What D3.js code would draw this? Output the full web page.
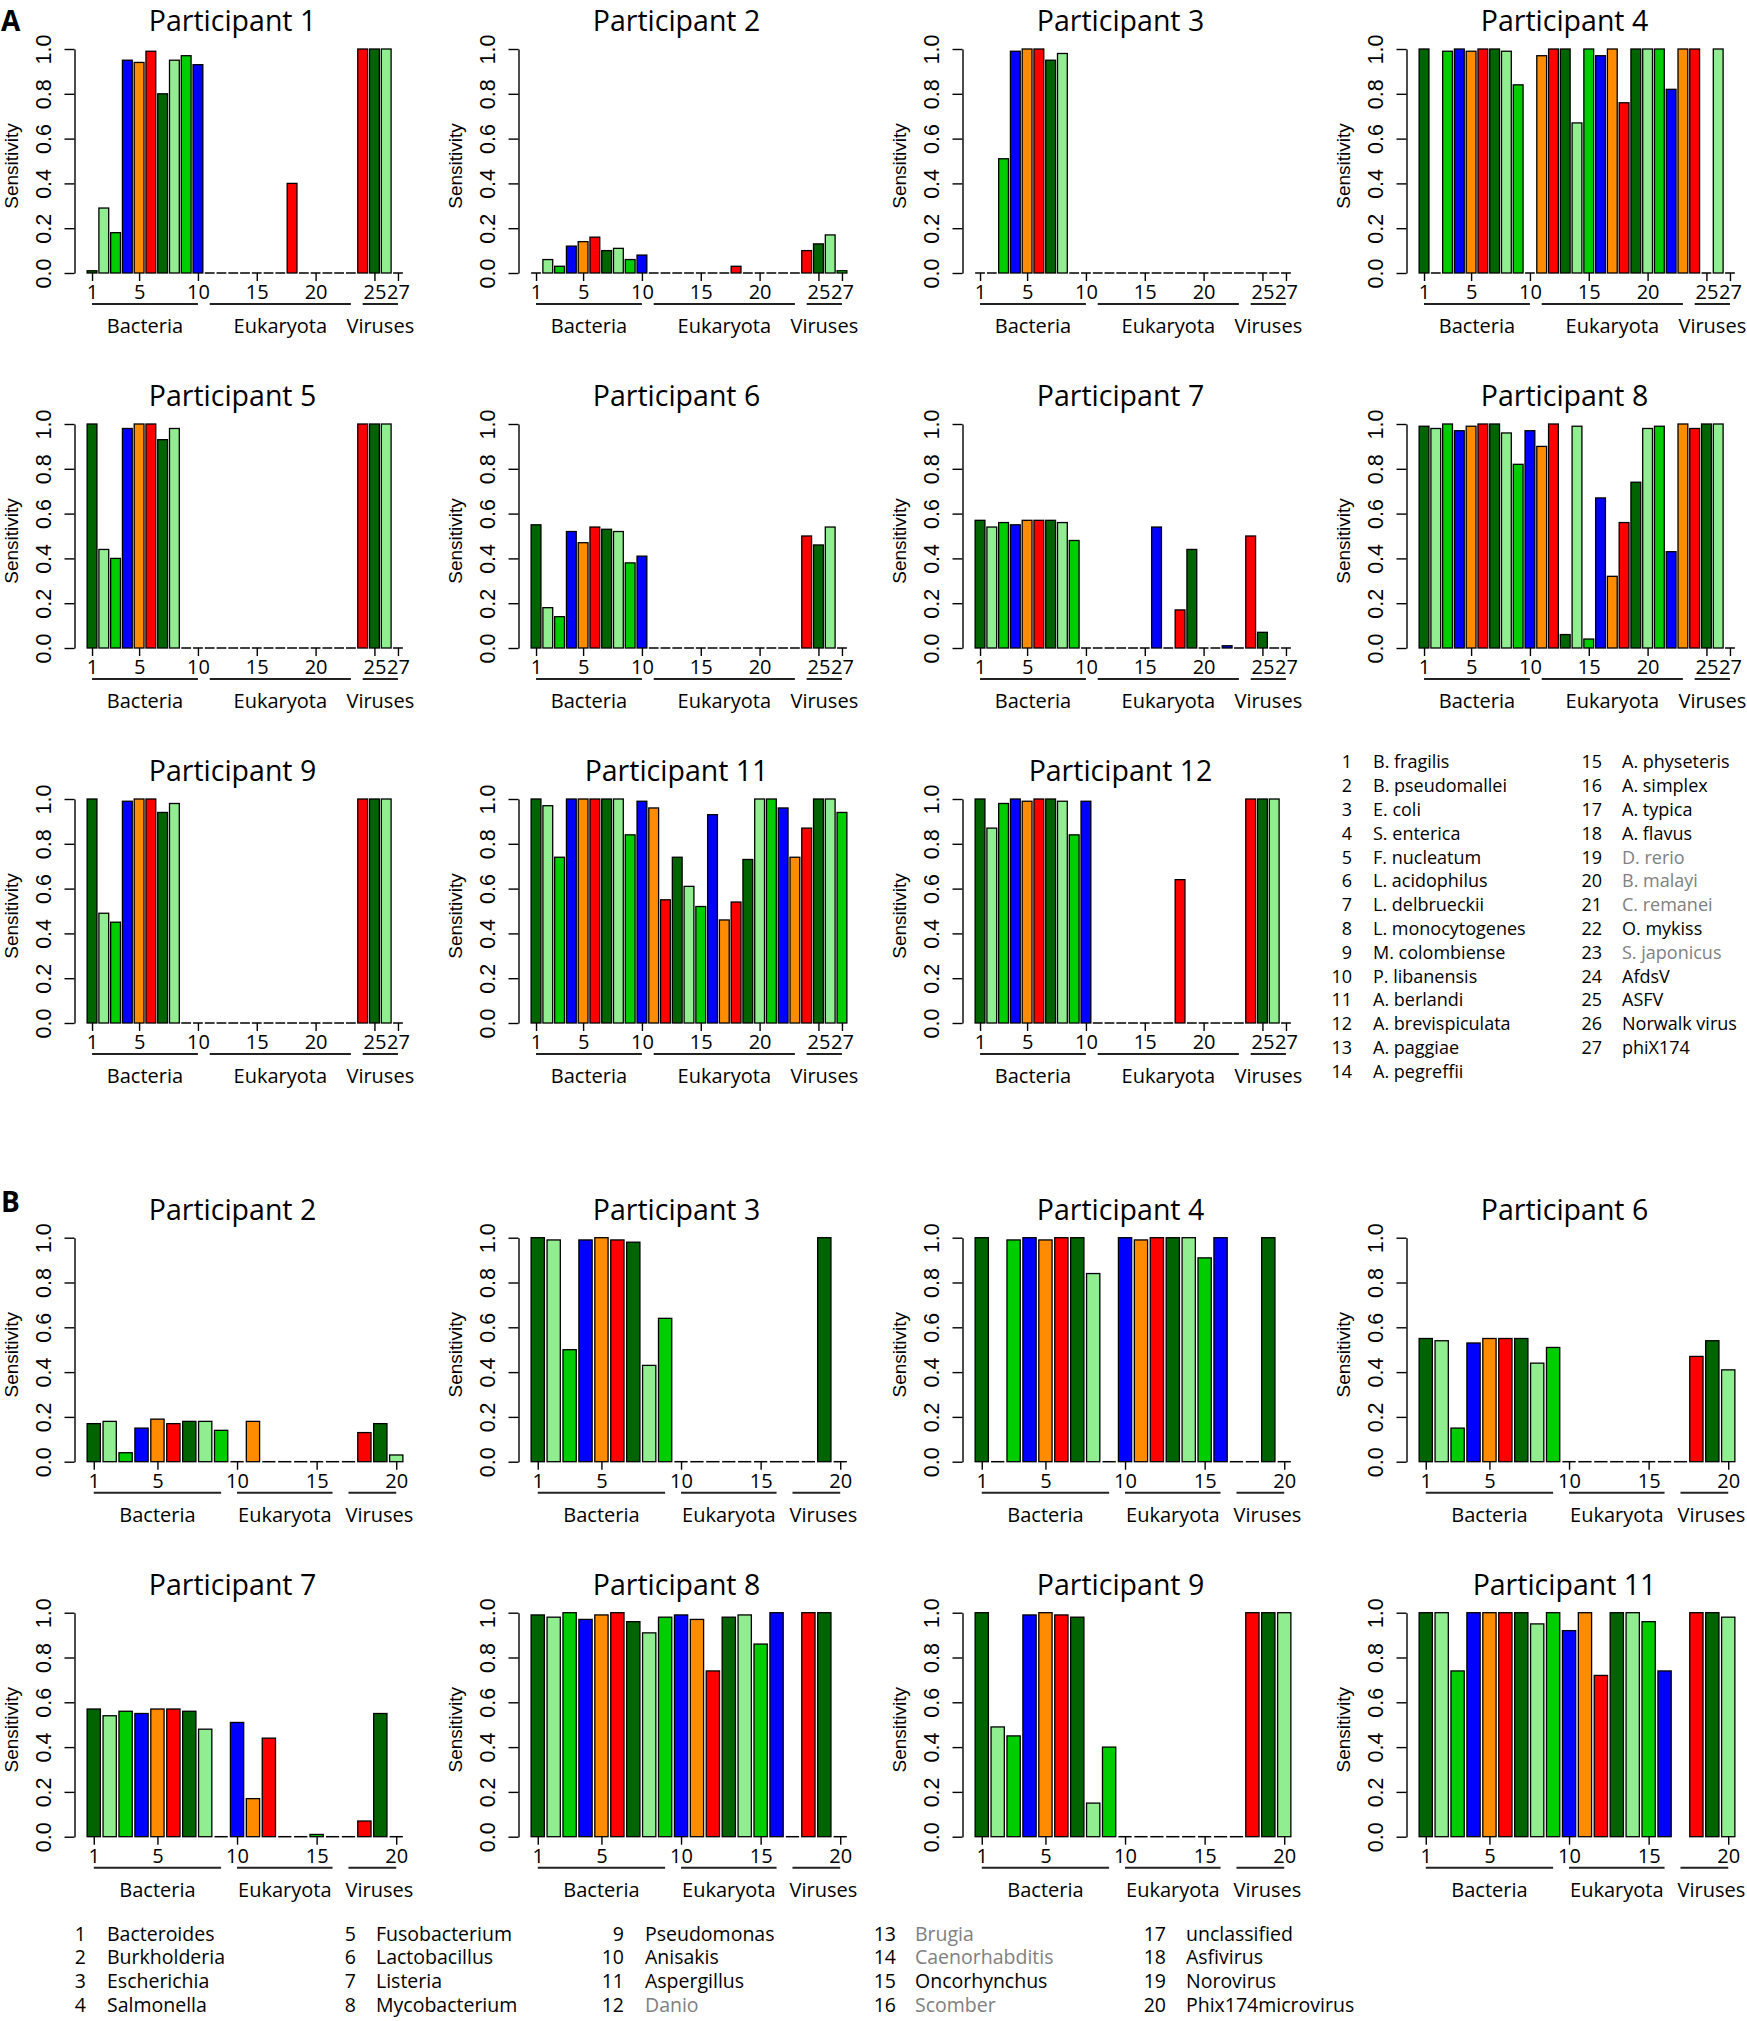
<!DOCTYPE html>
<html>
<head>
<meta charset="utf-8">
<script src="https://cdn.jsdelivr.net/npm/d3@7"></script>
<style>
  body { margin: 0; background: #fff; }
  svg { display: block; }
</style>
</head>
<body>
<div id="chart"></div>
<script>
// ---- labels ----
const speciesNames = ["B. fragilis", "B. pseudomallei", "E. coli", "S. enterica", "F. nucleatum",
  "L. acidophilus", "L. delbrueckii", "L. monocytogenes", "M. colombiense", "P. libanensis",
  "A. berlandi", "A. brevispiculata", "A. paggiae", "A. pegreffii", "A. physeteris", "A. simplex",
  "A. typica", "A. flavus", "D. rerio", "B. malayi", "C. remanei", "O. mykiss", "S. japonicus",
  "AfdsV", "ASFV", "Norwalk virus", "phiX174"];
const speciesGrey = [19, 20, 21, 23];

const genusNames = ["Bacteroides", "Burkholderia", "Escherichia", "Salmonella", "Fusobacterium",
  "Lactobacillus", "Listeria", "Mycobacterium", "Pseudomonas", "Anisakis", "Aspergillus", "Danio",
  "Brugia", "Caenorhabditis", "Oncorhynchus", "Scomber", "unclassified", "Asfivirus", "Norovirus",
  "Phix174microvirus"];
const genusGrey = [12, 13, 14, 16];

const speciesGroups = [["Bacteria", 1, 10], ["Eukaryota", 11, 23], ["Viruses", 24, 27]];
const genusGroups = [["Bacteria", 1, 9], ["Eukaryota", 10, 16], ["Viruses", 17, 20]];
const speciesTicks = [1, 5, 10, 15, 20, 25, 27];
const genusTicks = [1, 5, 10, 15, 20];
const yTicks = [0, 0.2, 0.4, 0.6, 0.8, 1.0];

// bar colours repeat every 6 bars
const barColors = ["#006400", "#90ee90", "#00cd00", "#0000ff", "#ff8c00", "#ff0000"];

// ---- A: sensitivity per species ----
const sp1 = [0.01, 0.29, 0.18, 0.95, 0.94, 0.99, 0.80, 0.95, 0.97, 0.93, 0, 0, 0, 0, 0, 0, 0, 0.40, 0, 0, 0, 0, 0, 1.0, 1.0, 1.0, 0];
const sp2 = [0, 0.06, 0.03, 0.12, 0.14, 0.16, 0.10, 0.11, 0.06, 0.08, 0, 0, 0, 0, 0, 0, 0, 0.03, 0, 0, 0, 0, 0, 0.10, 0.13, 0.17, 0.01];
const sp3 = [0, 0, 0.51, 0.99, 1.0, 1.0, 0.95, 0.98, 0, 0, 0, 0, 0, 0, 0, 0, 0, 0, 0, 0, 0, 0, 0, 0, 0, 0, 0];
const sp4 = [1.0, 0, 0.99, 1.0, 0.99, 1.0, 1.0, 0.99, 0.84, 0, 0.97, 1.0, 1.0, 0.67, 1.0, 0.97, 1.0, 0.76, 1.0, 1.0, 1.0, 0.82, 1.0, 1.0, 0, 1.0, 0];
const sp5 = [1.0, 0.44, 0.40, 0.98, 1.0, 1.0, 0.93, 0.98, 0, 0, 0, 0, 0, 0, 0, 0, 0, 0, 0, 0, 0, 0, 0, 1.0, 1.0, 1.0, 0];
const sp6 = [0.55, 0.18, 0.14, 0.52, 0.47, 0.54, 0.53, 0.52, 0.38, 0.41, 0, 0, 0, 0, 0, 0, 0, 0, 0, 0, 0, 0, 0, 0.50, 0.46, 0.54, 0];
const sp7 = [0.57, 0.54, 0.56, 0.55, 0.57, 0.57, 0.57, 0.56, 0.48, 0, 0, 0, 0, 0, 0, 0.54, 0, 0.17, 0.44, 0, 0, 0.01, 0, 0.50, 0.07, 0, 0];
const sp8 = [0.99, 0.98, 1.0, 0.97, 0.99, 1.0, 1.0, 0.96, 0.82, 0.97, 0.90, 1.0, 0.06, 0.99, 0.04, 0.67, 0.32, 0.56, 0.74, 0.98, 0.99, 0.43, 1.0, 0.98, 1.0, 1.0, 0];
const sp9 = [1.0, 0.49, 0.45, 0.99, 1.0, 1.0, 0.94, 0.98, 0, 0, 0, 0, 0, 0, 0, 0, 0, 0, 0, 0, 0, 0, 0, 1.0, 1.0, 1.0, 0];
const sp11 = [1.0, 0.97, 0.74, 1.0, 1.0, 1.0, 1.0, 1.0, 0.84, 0.99, 0.96, 0.55, 0.74, 0.61, 0.52, 0.93, 0.46, 0.54, 0.73, 1.0, 1.0, 0.96, 0.74, 0.87, 1.0, 1.0, 0.94];
const sp12 = [1.0, 0.87, 0.98, 1.0, 0.99, 1.0, 1.0, 0.99, 0.84, 0.99, 0, 0, 0, 0, 0, 0, 0, 0.64, 0, 0, 0, 0, 0, 1.0, 1.0, 1.0, 0];

// ---- B: sensitivity per genus (null = not drawn) ----
const gn2 = [0.17, 0.18, 0.04, 0.15, 0.19, 0.17, 0.18, 0.18, 0.14, 0, 0.18, 0, 0, 0, 0, 0, 0, 0.13, 0.17, 0.03];
const gn3 = [1.0, 0.99, 0.50, 0.99, 1.0, 0.99, 0.98, 0.43, 0.64, 0, 0, 0, 0, 0, 0, 0, 0, 0, 1.0, 0];
const gn4 = [1.0, 0, 0.99, 1.0, 0.99, 1.0, 1.0, 0.84, 0, 1.0, 0.99, 1.0, 1.0, 1.0, 0.91, 1.0, 0, 0, 1.0, 0];
const gn6 = [0.55, 0.54, 0.15, 0.53, 0.55, 0.55, 0.55, 0.44, 0.51, 0, 0, 0, 0, 0, 0, 0, 0, 0.47, 0.54, 0.41];
const gn7 = [0.57, 0.54, 0.56, 0.55, 0.57, 0.57, 0.56, 0.48, 0, 0.51, 0.17, 0.44, 0, 0, 0.01, 0, 0, 0.07, 0.55, 0];
const gn8 = [0.99, 0.98, 1.0, 0.97, 0.99, 1.0, 0.96, 0.91, 0.98, 0.99, 0.97, 0.74, 0.98, 0.99, 0.86, 1.0, 0, 1.0, 1.0, 0];
const gn9 = [1.0, 0.49, 0.45, 0.99, 1.0, 0.99, 0.98, 0.15, 0.40, 0, 0, 0, 0, 0, 0, 0, 0, 1.0, 1.0, 1.0];
const gn11 = [1.0, 1.0, 0.74, 1.0, 1.0, 1.0, 1.0, 0.95, 1.0, 0.92, 1.0, 0.72, 1.0, 1.0, 0.96, 0.74, null, 1.0, 1.0, 0.98];

const panelsA = [
  ["Participant 1", sp1], ["Participant 2", sp2], ["Participant 3", sp3], ["Participant 4", sp4],
  ["Participant 5", sp5], ["Participant 6", sp6], ["Participant 7", sp7], ["Participant 8", sp8],
  ["Participant 9", sp9], ["Participant 11", sp11], ["Participant 12", sp12]
];
const panelsB = [
  ["Participant 2", gn2], ["Participant 3", gn3], ["Participant 4", gn4], ["Participant 6", gn6],
  ["Participant 7", gn7], ["Participant 8", gn8], ["Participant 9", gn9], ["Participant 11", gn11]
];

// ---- layout ----
const width = 1747, height = 2021;
const plotW = 341, plotH = 224;
const colLeft = c => 74.5 + 444 * c;
const rowTopA = r => 49 + 375 * r;
const rowTopB = r => 1237.7 + 375 * r;
const labelFont = "'Open Sans', 'Noto Sans', sans-serif";
const axisFont = "'Liberation Sans', Arial, sans-serif";

const svg = d3.select("#chart").append("svg")
  .attr("width", width)
  .attr("height", height)
  .style("background", "#fff");

function drawPanel(left, top, title, values, groups, ticks) {
  const n = values.length;
  const span = 1.2 * n - 0.2;
  // same extent rule as R's barplot: bars from 0.2 to 1.2n, 4% padding
  const x = d3.scaleLinear()
    .domain([0.2 - 0.04 * span, 1.2 * n + 0.04 * span])
    .range([left, left + plotW]);
  const y = d3.scaleLinear().domain([0, 1]).range([top + plotH, top]);
  const mid = i => 0.7 + (i - 1) * 1.2;
  const bw = x(1) - x(0);

  const g = svg.append("g");
  const bars = values.map((v, k) => ({ i: k + 1, v: v }));

  g.selectAll(".bar")
    .data(bars.filter(d => d.v > 0))
    .join("rect")
    .attr("class", "bar")
    .attr("x", d => x(mid(d.i) - 0.5))
    .attr("width", bw)
    .attr("y", d => y(d.v))
    .attr("height", d => y(0) - y(d.v))
    .attr("fill", d => barColors[(d.i - 1) % 6])
    .attr("stroke", "#000")
    .attr("stroke-width", 1.3);

  // zero bars collapse to a flat line, like R does
  g.selectAll(".zero")
    .data(bars.filter(d => d.v === 0))
    .join("line")
    .attr("class", "zero")
    .attr("x1", d => x(mid(d.i) - 0.5))
    .attr("x2", d => x(mid(d.i) + 0.5))
    .attr("y1", y(0))
    .attr("y2", y(0))
    .attr("stroke", "#000")
    .attr("stroke-width", 1.5);

  // y axis
  g.append("g")
    .attr("transform", `translate(${left},0)`)
    .call(d3.axisLeft(y).tickValues(yTicks).tickFormat(d3.format(".1f")).tickSize(10).tickSizeOuter(0))
    .call(a => a.attr("font-family", axisFont).attr("font-size", 21.5))
    .call(a => a.selectAll("path, line").attr("stroke", "#000").attr("stroke-width", 1.4))
    .call(a => a.selectAll("text")
      .attr("x", null)
      .attr("dy", null)
      .attr("fill", "#000")
      .attr("text-anchor", "middle")
      .attr("transform", "translate(-24,0) rotate(-90)"));

  // x axis: ticks only
  g.append("g")
    .attr("transform", `translate(0,${y(0)})`)
    .call(d3.axisBottom(x).tickValues(ticks.map(mid)).tickFormat((d, k) => ticks[k]).tickSize(8).tickPadding(4))
    .call(a => a.select(".domain").remove())
    .call(a => a.attr("font-family", labelFont).attr("font-size", 20))
    .call(a => a.selectAll("line").attr("stroke", "#000").attr("stroke-width", 1.4))
    .call(a => a.selectAll("text").attr("fill", "#000"));

  // taxonomic groups under the axis; a label is pushed right if it would crowd its neighbour
  let prevRight = -Infinity;
  groups.forEach(([name, from, to]) => {
    g.append("line")
      .attr("x1", x(mid(from)))
      .attr("x2", x(mid(to)))
      .attr("y1", y(0) + 31)
      .attr("y2", y(0) + 31)
      .attr("stroke", "#222")
      .attr("stroke-width", 2);
    const t = g.append("text")
      .attr("y", y(0) + 60)
      .attr("text-anchor", "middle")
      .attr("font-family", labelFont)
      .attr("font-size", 20)
      .text(name);
    const half = t.node().getComputedTextLength() / 2;
    const cx = Math.max(x((mid(from) + mid(to)) / 2), prevRight + 14 + half);
    t.attr("x", cx);
    prevRight = cx + half;
  });

  g.append("text")
    .attr("x", left + 158)
    .attr("y", top - 18)
    .attr("text-anchor", "middle")
    .attr("font-family", labelFont)
    .attr("font-size", 28.5)
    .text(title);

  g.append("text")
    .attr("transform", `translate(${left - 57},${top + plotH / 2 + 5}) rotate(-90)`)
    .attr("text-anchor", "middle")
    .attr("font-family", axisFont)
    .attr("font-size", 19)
    .text("Sensitivity");
}

panelsA.forEach(([title, vals], k) => {
  drawPanel(colLeft(k % 4), rowTopA(Math.floor(k / 4)), title, vals, speciesGroups, speciesTicks);
});
panelsB.forEach(([title, vals], k) => {
  drawPanel(colLeft(k % 4), rowTopB(Math.floor(k / 4)), title, vals, genusGroups, genusTicks);
});

// panel letters
svg.append("text").attr("x", 1).attr("y", 31)
  .attr("font-family", labelFont).attr("font-weight", 700).attr("font-size", 28).text("A");
svg.append("text").attr("x", 1).attr("y", 1212)
  .attr("font-family", labelFont).attr("font-weight", 700).attr("font-size", 28).text("B");

// legends: right-aligned number, then name (grey where marked)
function legendEntry(numX, nameX, cy, num, name, grey, size) {
  svg.append("text").attr("x", numX).attr("y", cy).attr("dy", "0.35em")
    .attr("text-anchor", "end").attr("font-family", labelFont).attr("font-size", size)
    .attr("fill", "#000").text(num);
  svg.append("text").attr("x", nameX).attr("y", cy).attr("dy", "0.35em")
    .attr("font-family", labelFont).attr("font-size", size)
    .attr("fill", grey ? "#808080" : "#000").text(name);
}

speciesNames.forEach((name, k) => {
  const col = k < 14 ? 0 : 1;
  const row = col === 0 ? k : k - 14;
  legendEntry(col === 0 ? 1352 : 1602, col === 0 ? 1373 : 1622, 762 + 23.8 * row,
    k + 1, name, speciesGrey.includes(k + 1), 18);
});

const genusNumX = [86, 356, 624, 896, 1166];
const genusNameX = [107, 376, 645, 915, 1186];
genusNames.forEach((name, k) => {
  const col = Math.floor(k / 4), row = k % 4;
  legendEntry(genusNumX[col], genusNameX[col], 1934 + 23.6 * row,
    k + 1, name, genusGrey.includes(k + 1), 19.5);
});
</script>
</body>
</html>
